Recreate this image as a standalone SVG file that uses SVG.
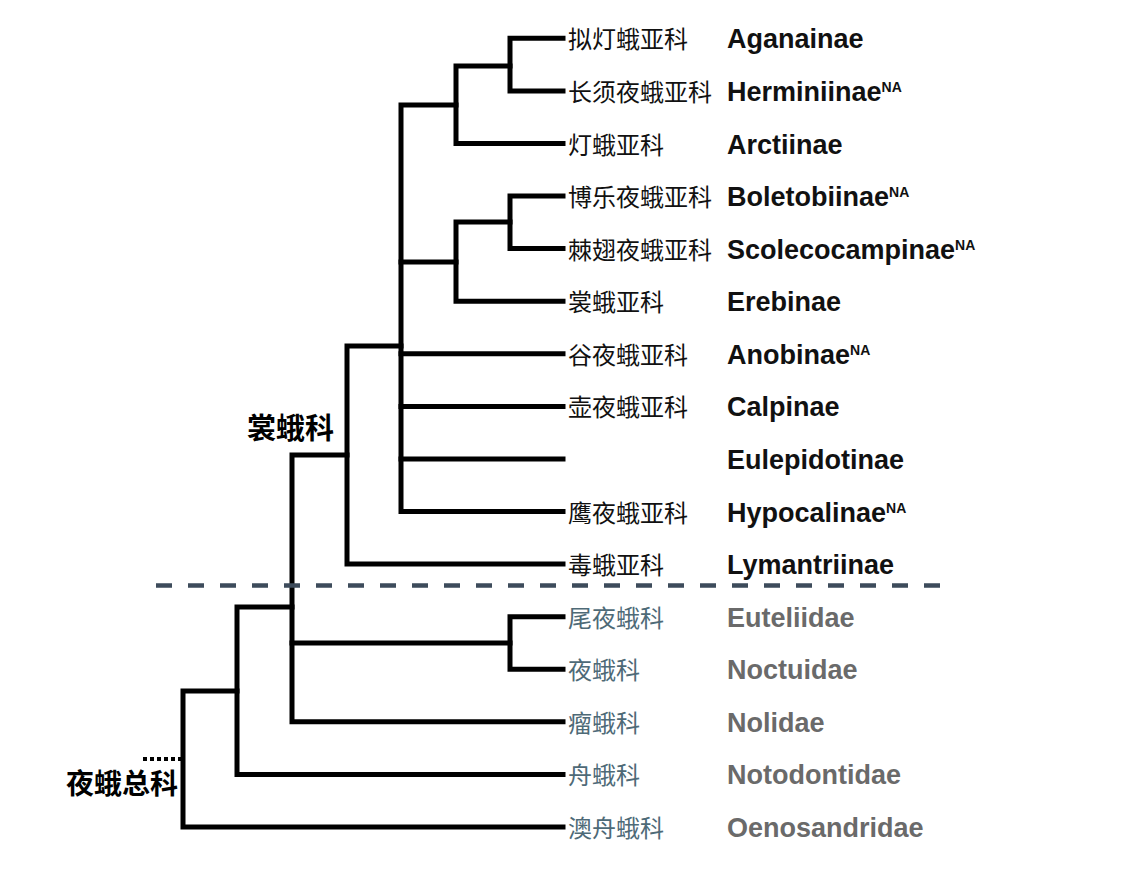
<svg xmlns="http://www.w3.org/2000/svg" width="1132" height="885" viewBox="0 0 1132 885">
<style>
.br{fill:none;stroke:#000;stroke-width:5;stroke-linejoin:miter;stroke-linecap:square}
.cn{font-family:"Noto Sans CJK SC","Noto Sans",sans-serif;font-size:24px;font-weight:400;fill:#111}
.en{font-family:"Liberation Sans",Arial,sans-serif;font-size:27px;font-weight:bold;fill:#111}
.sup{font-size:14px}
.cn2{fill:#4e6a77}
.en2{fill:#6a6a6a}
.grp{font-family:"Noto Sans CJK SC",sans-serif;font-weight:bold;fill:#000}
</style>
<rect width="1132" height="885" fill="#fff"/>
<g id="connectors">
<path class="br" d="M563,38.3 H510 V90.9 H563"/>
<path class="br" d="M510,66 H456 V143.5 H563"/>
<path class="br" d="M563,196 H510 V248.6 H563"/>
<path class="br" d="M510,222 H456 V301.2 H563"/>
<path class="br" d="M456,105 H401 V511.5 H563"/>
<path class="br" d="M456,262 H401"/>
<path class="br" d="M401,353.8 H563"/>
<path class="br" d="M401,406.4 H563"/>
<path class="br" d="M401,458.9 H563"/>
<path class="br" d="M401,346 H347 V564.1 H563"/>
<path class="br" d="M347,455 H292 V721.8 H563"/>
<path class="br" d="M563,616.7 H510 V669.3 H563"/>
<path class="br" d="M292,643 H510"/>
<path class="br" d="M292,607 H237 V774.4 H563"/>
<path class="br" d="M237,691 H183 V827 H563"/>
<line x1="156" y1="585.5" x2="946" y2="585.5" stroke="#3d4b5b" stroke-width="4.5" stroke-dasharray="16 16"/>
<line x1="143" y1="759" x2="181" y2="759" stroke="#000" stroke-width="4" stroke-dasharray="4 3"/>
</g>
<g id="group-erebidae"><text class="grp" x="247" y="438.5" font-size="29">裳蛾科</text></g>
<g id="group-noctuoidea"><text class="grp" x="66" y="794" font-size="28">夜蛾总科</text></g>
<g id="aganainae"><text class="cn" x="568" y="48.3">拟灯蛾亚科</text><text class="en" x="727" y="48.3">Aganainae</text></g>
<g id="herminiinae"><text class="cn" x="568" y="100.9">长须夜蛾亚科</text><text class="en" x="727" y="100.9">Herminiinae<tspan class="sup" dy="-9">NA</tspan></text></g>
<g id="arctiinae"><text class="cn" x="568" y="153.5">灯蛾亚科</text><text class="en" x="727" y="153.5">Arctiinae</text></g>
<g id="boletobiinae"><text class="cn" x="568" y="206">博乐夜蛾亚科</text><text class="en" x="727" y="206">Boletobiinae<tspan class="sup" dy="-9">NA</tspan></text></g>
<g id="scolecocampinae"><text class="cn" x="568" y="258.6">棘翅夜蛾亚科</text><text class="en" x="727" y="258.6">Scolecocampinae<tspan class="sup" dy="-9">NA</tspan></text></g>
<g id="erebinae"><text class="cn" x="568" y="311.2">裳蛾亚科</text><text class="en" x="727" y="311.2">Erebinae</text></g>
<g id="anobinae"><text class="cn" x="568" y="363.8">谷夜蛾亚科</text><text class="en" x="727" y="363.8">Anobinae<tspan class="sup" dy="-9">NA</tspan></text></g>
<g id="calpinae"><text class="cn" x="568" y="416.4">壶夜蛾亚科</text><text class="en" x="727" y="416.4">Calpinae</text></g>
<g id="eulepidotinae"><text class="en" x="727" y="468.9">Eulepidotinae</text></g>
<g id="hypocalinae"><text class="cn" x="568" y="521.5">鹰夜蛾亚科</text><text class="en" x="727" y="521.5">Hypocalinae<tspan class="sup" dy="-9">NA</tspan></text></g>
<g id="lymantriinae"><text class="cn" x="568" y="574.1">毒蛾亚科</text><text class="en" x="727" y="574.1">Lymantriinae</text></g>
<g id="euteliidae"><text class="cn cn2" x="568" y="626.7">尾夜蛾科</text><text class="en en2" x="727" y="626.7">Euteliidae</text></g>
<g id="noctuidae"><text class="cn cn2" x="568" y="679.3">夜蛾科</text><text class="en en2" x="727" y="679.3">Noctuidae</text></g>
<g id="nolidae"><text class="cn cn2" x="568" y="731.8">瘤蛾科</text><text class="en en2" x="727" y="731.8">Nolidae</text></g>
<g id="notodontidae"><text class="cn cn2" x="568" y="784.4">舟蛾科</text><text class="en en2" x="727" y="784.4">Notodontidae</text></g>
<g id="oenosandridae"><text class="cn cn2" x="568" y="837">澳舟蛾科</text><text class="en en2" x="727" y="837">Oenosandridae</text></g>
</svg>
